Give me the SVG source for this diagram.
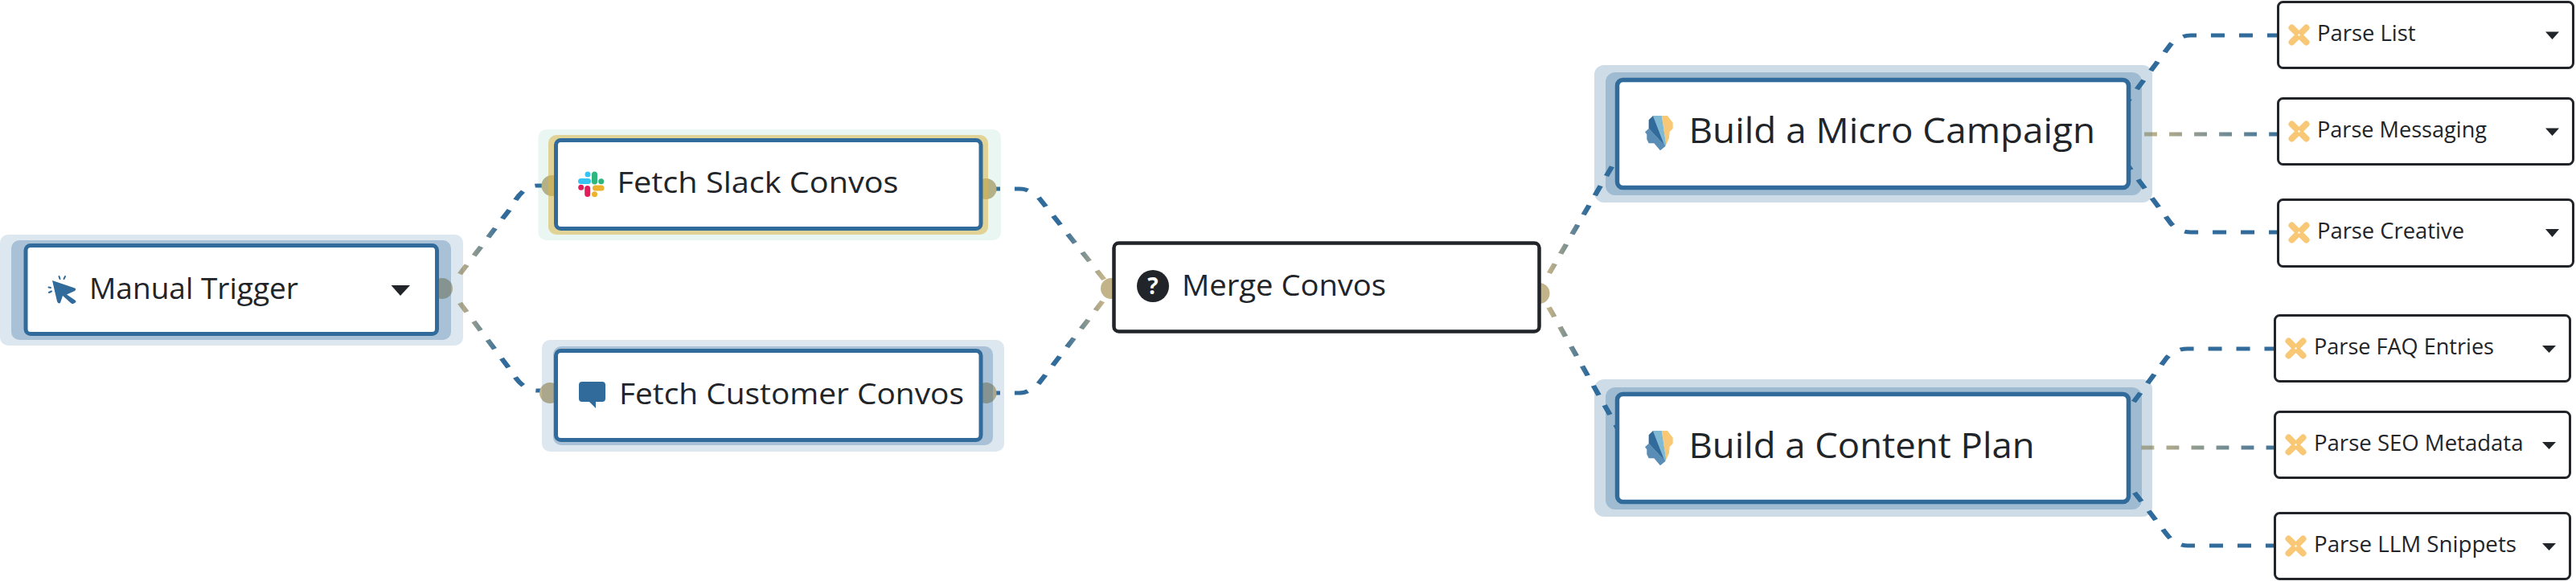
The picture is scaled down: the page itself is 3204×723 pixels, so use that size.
<svg xmlns="http://www.w3.org/2000/svg" width="3204" height="723" viewBox="0 0 3204 723">
<style>
text{font-family:"Open Sans","Noto Sans",sans-serif;fill:#212529}
.big{font-size:37px}
.huge{font-size:43px}
.small{font-size:26.5px}
.conn{fill:none;stroke-width:5;stroke-dasharray:12.9 13.6}
.short{stroke-dasharray:12 11.5}
.blue{stroke:#306b9b}
.handle{fill:#c3b389}
.body{fill:#fff;stroke:#306b9b;stroke-width:5}
.black{fill:#fff;stroke:#212529;stroke-width:4.5}
.parse{fill:#fff;stroke:#212529;stroke-width:3}
.outerA{fill:#306b9b;opacity:.165}
.midA{fill:#306b9b;opacity:.3}
.outerB{fill:#306b9b;opacity:.24}
.midB{fill:#306b9b;opacity:.29}
.tri{fill:#212529}
</style>
<defs>
<linearGradient id="gManual" gradientUnits="userSpaceOnUse" x1="431.800" y1="0" x2="473.500" y2="0"><stop offset="0" stop-color="#c3b389"/><stop offset="1" stop-color="#306b9b"/></linearGradient>
<linearGradient id="gToMerge" gradientUnits="userSpaceOnUse" x1="1000" y1="0" x2="1039.400" y2="0"><stop offset="0" stop-color="#306b9b"/><stop offset="1" stop-color="#c3b389"/></linearGradient>
<linearGradient id="gMerge" gradientUnits="userSpaceOnUse" x1="1458.300" y1="0" x2="1496.200" y2="0"><stop offset="0" stop-color="#c3b389"/><stop offset="1" stop-color="#306b9b"/></linearGradient>
<linearGradient id="gMid" gradientUnits="userSpaceOnUse" x1="2022.700" y1="0" x2="2159.100" y2="0"><stop offset="0" stop-color="#c3b389"/><stop offset="1" stop-color="#306b9b"/></linearGradient>
<g id="brain">
<polygon fill="#f8c876" points="36.7,14 44,14 50.7,22.7 50.7,30 46.7,34 46,41.7 42.3,50"/>
<polygon fill="#7fb9d3" points="26,14 36.7,14 42.3,50 40.7,51.7"/>
<polygon fill="#306b9b" points="26,14 40.7,51.7 20.7,30 20.7,19.3"/>
<polygon fill="#5a8db5" points="20.7,30 16,34.3 18.3,37.3 18.3,43.3 20.7,48.3 27.3,48.3 35,57.3 41.7,51.7"/>
</g>
<g id="spark">
<path d="M-9-9L9 9M9-9L-9 9" fill="none" stroke="#f8c876" stroke-width="8" stroke-linecap="round"/>
<circle r="1.2" fill="#fff"/>
</g>
</defs>
<g id="connectors" transform="scale(1.32 1)">
<path class="conn" stroke="url(#gManual)" d="M433.300 341L481.800 258Q492.400 231 506.100 231L519.700 231"/>
<path class="conn" stroke="url(#gManual)" d="M433.300 377L481.800 462Q492.400 486 506.100 486L519.700 486"/>
<path class="conn" stroke="url(#gToMerge)" d="M929.500 235L960.600 235Q969.700 235 978.800 246L1047.700 360"/>
<path class="conn" stroke="url(#gToMerge)" d="M929.500 489L960.600 489Q969.700 489 978.800 477L1047.700 360"/>
<path class="conn" stroke="url(#gMerge)" d="M1459.800 340L1526.500 190"/>
<path class="conn" stroke="url(#gMerge)" d="M1459.500 382.500L1530.300 547"/>
<path class="conn blue" d="M2149.200 44L2064.400 44Q2054.500 44 2045.500 55L2003.800 128"/>
<path class="conn short" stroke="url(#gMid)" d="M2020.500 167L2145.500 167"/>
<path class="conn blue" d="M2150.800 289L2064.400 289Q2053 289 2045.500 278L2003.800 204"/>
<path class="conn blue" d="M2146.600 434L2061.400 434Q2050 434 2041.700 445L2003.800 512"/>
<path class="conn short" stroke="url(#gMid)" d="M2017.800 557L2142.400 557"/>
<path class="conn blue" d="M2147.700 679L2061.400 679Q2050 679 2041.700 665L2003.800 600"/>
</g>
<g id="handles">
<circle class="handle" cx="550" cy="359" r="13"/>
<circle class="handle" cx="686.500" cy="231" r="13"/>
<circle class="handle" cx="1226.500" cy="235" r="13"/>
<circle class="handle" cx="684" cy="489" r="13"/>
<circle class="handle" cx="1226.500" cy="489" r="13"/>
<circle class="handle" cx="1382" cy="359" r="13"/>
<circle class="handle" cx="1914.500" cy="365" r="13"/>
</g>
<g id="manual-trigger">
<rect class="outerA" x="0" y="292" width="576" height="138" rx="10"/>
<rect class="midA" x="14" y="299" width="547" height="124" rx="10"/>
<rect class="body" x="32" y="305.500" width="511.500" height="110" rx="6"/>
<path d="M65 349L93 358.500Q95.500 360 93 362L83 366.500L94 374Q95.500 376 92 377.500Q90 379 88 377L78 368L75 377Q72 378.500 71 375Z" fill="#306b9b"/>
<path d="M73.500 344L74.500 347M81 344L79.500 347M60.500 357.500L63 358M61 364L64 362.500" stroke="#306b9b" stroke-width="2" stroke-linecap="round" fill="none"/>
<text class="big" x="111" y="372" textLength="260" lengthAdjust="spacingAndGlyphs">Manual Trigger</text>
<polygon class="tri" points="486.500,355 510,355 498,368"/>
</g>
<g id="fetch-slack-convos">
<rect x="669.500" y="161" width="575.500" height="138" rx="10" fill="#2faa82" opacity=".1"/>
<rect x="682" y="168" width="547" height="124" rx="10" fill="#d8b548" opacity=".55"/>
<rect class="body" x="691.500" y="174.500" width="528.500" height="110" rx="6"/>
<g fill="none" stroke-width="7" stroke-linecap="round">
<path d="M722.500 225.500L731.500 225.500" stroke="#36c5f0"/>
<path d="M731 217L731 217" stroke="#36c5f0"/>
<path d="M739.500 217L739.500 226" stroke="#2eb67d"/>
<path d="M747.700 225.700L747.700 225.700" stroke="#2eb67d"/>
<path d="M740.500 234L748 234" stroke="#ecb22e"/>
<path d="M739.500 241.700L739.500 241.700" stroke="#ecb22e"/>
<path d="M730.700 234.500L730.700 241.500" stroke="#e01e5a"/>
<path d="M722.700 233.300L722.700 233.300" stroke="#e01e5a"/>
</g>
<text class="big" x="767.500" y="240" textLength="350" lengthAdjust="spacingAndGlyphs">Fetch Slack Convos</text>
</g>
<g id="fetch-customer-convos">
<rect class="outerA" x="674" y="423" width="575" height="139" rx="10"/>
<rect class="midA" x="688" y="431" width="547" height="123" rx="10"/>
<rect class="body" x="691.500" y="436.500" width="528.500" height="111" rx="6"/>
<path d="M724 475L749 475Q753 475 753 479L753 496Q753 500 749 500L741 500L741 508L733 500L724 500Q720 500 720 496L720 479Q720 475 724 475Z" fill="#306b9b"/>
<text class="big" x="770" y="503" textLength="429" lengthAdjust="spacingAndGlyphs">Fetch Customer Convos</text>
</g>
<g id="merge-convos">
<rect class="black" x="1385.500" y="302.500" width="529" height="110" rx="6"/>
<circle cx="1434" cy="356" r="20" fill="#212529"/>
<text x="1434" y="366" text-anchor="middle" font-size="28" font-weight="700" style="fill:#fff">?</text>
<text class="big" x="1470" y="368" textLength="254" lengthAdjust="spacingAndGlyphs">Merge Convos</text>
</g>
<g id="build-micro-campaign">
<rect class="outerB" x="1983" y="81" width="694" height="171" rx="12"/>
<rect class="midB" x="1997" y="90" width="667" height="153" rx="12"/>
<rect class="body" x="2011.500" y="99.500" width="636" height="134" rx="7" style="stroke-width:5.500"/>
<use href="#brain" x="2030" y="130"/>
<text class="huge" x="2100.500" y="178" textLength="505.500" lengthAdjust="spacingAndGlyphs">Build a Micro Campaign</text>
</g>
<g id="build-content-plan">
<rect class="outerB" x="1983" y="472" width="694" height="171" rx="12"/>
<rect class="midB" x="1997" y="482" width="667" height="152" rx="12"/>
<rect class="body" x="2011.500" y="490.500" width="636" height="134" rx="7" style="stroke-width:5.500"/>
<use href="#brain" x="2030" y="522"/>
<text class="huge" x="2100.500" y="570" textLength="430" lengthAdjust="spacingAndGlyphs">Build a Content Plan</text>
</g>
<g id="parse-list">
<rect class="parse" x="2833.500" y="2.500" width="367" height="82" rx="6"/>
<use href="#spark" x="2859.500" y="43.500"/>
<text class="small" x="2882" y="51" textLength="122.500" lengthAdjust="spacingAndGlyphs">Parse List</text>
<polygon class="tri" points="3166,39.500 3183,39.500 3174.500,49"/>
</g>
<g id="parse-messaging">
<rect class="parse" x="2833.500" y="122.500" width="367" height="82" rx="6"/>
<use href="#spark" x="2859.500" y="163.500"/>
<text class="small" x="2882" y="171" textLength="211" lengthAdjust="spacingAndGlyphs">Parse Messaging</text>
<polygon class="tri" points="3166,159.500 3183,159.500 3174.500,169"/>
</g>
<g id="parse-creative">
<rect class="parse" x="2833.500" y="248.500" width="367" height="83" rx="6"/>
<use href="#spark" x="2859.500" y="289.500"/>
<text class="small" x="2882" y="297" textLength="183" lengthAdjust="spacingAndGlyphs">Parse Creative</text>
<polygon class="tri" points="3166,285 3183,285 3174.500,295"/>
</g>
<g id="parse-faq-entries">
<rect class="parse" x="2829.500" y="392.500" width="367" height="82" rx="6"/>
<use href="#spark" x="2855.500" y="433.500"/>
<text class="small" x="2878" y="441" textLength="224" lengthAdjust="spacingAndGlyphs">Parse FAQ Entries</text>
<polygon class="tri" points="3162,430 3179,430 3170.500,439"/>
</g>
<g id="parse-seo-metadata">
<rect class="parse" x="2829.500" y="512.500" width="367" height="82" rx="6"/>
<use href="#spark" x="2855.500" y="553.500"/>
<text class="small" x="2878" y="561" textLength="260.500" lengthAdjust="spacingAndGlyphs">Parse SEO Metadata</text>
<polygon class="tri" points="3162,550 3179,550 3170.500,559"/>
</g>
<g id="parse-llm-snippets">
<rect class="parse" x="2829.500" y="638.500" width="367" height="82" rx="6"/>
<use href="#spark" x="2855.500" y="679.500"/>
<text class="small" x="2878" y="687" textLength="252" lengthAdjust="spacingAndGlyphs">Parse LLM Snippets</text>
<polygon class="tri" points="3162,676 3179,676 3170.500,685"/>
</g>
</svg>
